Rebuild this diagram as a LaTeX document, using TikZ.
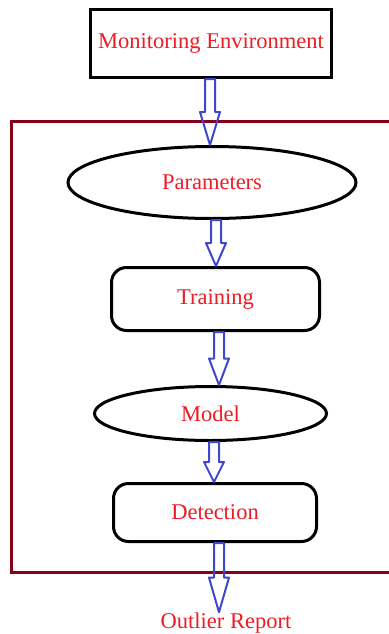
\documentclass[tikz,border=0pt]{standalone}
\usepackage{fontspec}
\setmainfont{Liberation Serif}
\usetikzlibrary{shapes.geometric,calc}

\definecolor{txtred}{RGB}{237,28,36}
\definecolor{arrowblue}{RGB}{63,72,204}
\definecolor{framered}{RGB}{136,0,21}

\tikzset{
  lbl/.style={text=txtred, inner sep=0pt, font=\fontsize{22.5}{27}\selectfont},
  box/.style={lbl, draw=black, line width=3pt},
  oval/.style={box, ellipse},
  roundbox/.style={box, rounded corners=15pt},
  hollow/.style={draw=arrowblue, line width=2pt, line join=round,
    to path={let \p1=(\tikztostart), \p2=(\tikztotarget),
      \p3=($(\tikztostart)!.5!(\tikztotarget)$) in
      (\x1-5pt,\y1) -- (\x1-5pt,\y3) -- (\x1-10pt,\y3) -- (\x2,\y2)
      -- (\x1+10pt,\y3) -- (\x1+5pt,\y3) -- (\x1+5pt,\y1) -- cycle}}
}

\begin{document}
\begin{tikzpicture}[x=1pt,y=-1pt]
\useasboundingbox (0,0) rectangle (388,634);

% outer frame
\draw[framered, line width=3pt] (11,121) rectangle (402,572);

\node[box, minimum width=241pt, minimum height=68pt] (mon) at (211,43.5) {Monitoring Environment};
\node[oval, minimum width=288pt, minimum height=72pt] (par) at (212,182.5) {Parameters};
\node[roundbox, minimum width=208pt, minimum height=63pt] (trn) at (215.5,299) {Training};
\node[oval, minimum width=232pt, minimum height=54pt] (mod) at (210.5,413.5) {Model};
\node[roundbox, minimum width=203pt, minimum height=58pt] (det) at (215,512.5) {Detection};
\node[lbl, anchor=base] (out) at (226,628) {Outlier Report};

\draw[hollow] ([xshift=-1pt]mon.south) to ([xshift=-2pt]par.north);
\draw[hollow] ([xshift=4pt]par.south) to ([xshift=0.5pt]trn.north);
\draw[hollow] ([xshift=3.5pt]trn.south) to ([xshift=8.5pt]mod.north);
\draw[hollow] ([xshift=3.5pt]mod.south) to ([xshift=-1pt]det.north);
\draw[hollow] ([xshift=4pt]det.south) to ([xshift=-7pt]out.north);
\end{tikzpicture}
\end{document}
